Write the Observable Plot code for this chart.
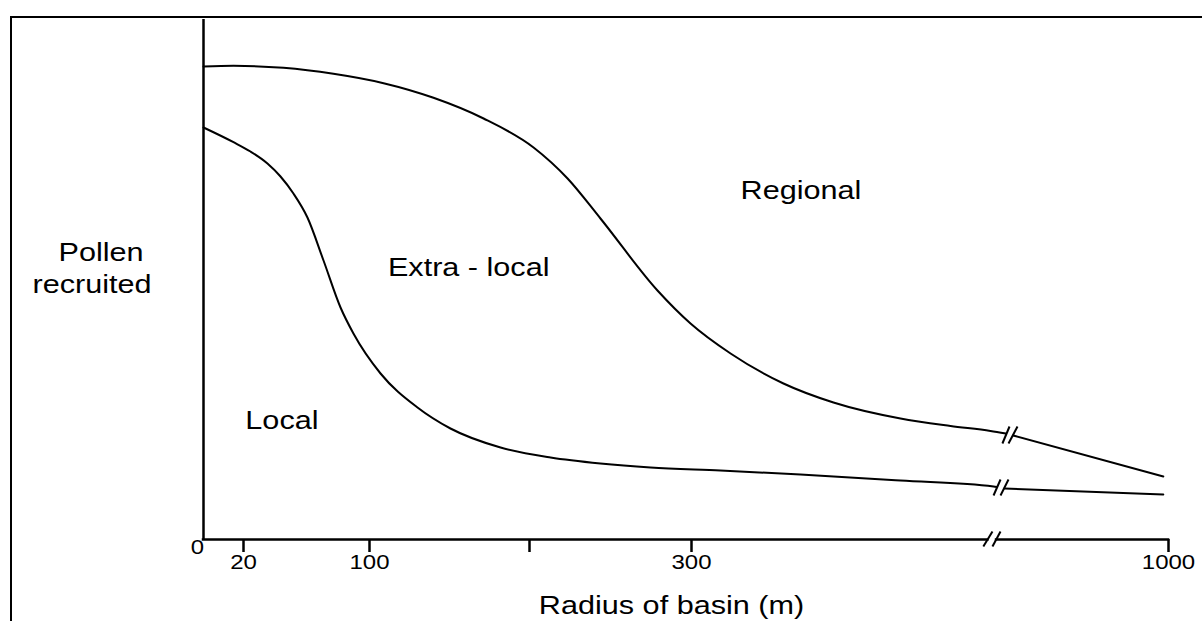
<!DOCTYPE html>
<html><head><meta charset="utf-8">
<script src="https://cdn.jsdelivr.net/npm/d3@7"></script>
<script src="https://cdn.jsdelivr.net/npm/@observablehq/plot@0.6"></script>
<style>
html,body{margin:0;padding:0;background:#fff;overflow:hidden;}
#wrap{position:relative;width:1202px;height:621px;overflow:hidden;}
#frame{position:absolute;left:10px;top:16px;width:1300px;height:800px;border-top:2px solid #000;border-left:2px solid #000;}
#chart{position:absolute;left:0;top:0;}
</style></head><body>
<div id="wrap"><div id="frame"></div><div id="chart"></div></div>
<script>
// Boundary between Extra-local and Regional (before and after the axis break)
const upperBefore = [[0,473],[15,473.7],[45.4,471.7],[77.1,465.7],[108.8,456.3],[140,441.7],[171.3,421],[202.5,392],[223.5,361],[243.8,321],[279,249],[299.4,216],[325.7,186],[360.5,156],[393.4,137],[437.5,121],[470.4,113.5],[496.7,108.5],[530,106]];
const upperAfter = [[551,104],[985,63]];
// Boundary between Local and Extra-local
const lowerBefore = [[0,412],[15,397.3],[24.4,388],[35.2,376],[43.5,363],[51.7,346],[60.6,322],[70.8,279],[81.6,232],[89.8,206],[106.9,166],[130,132],[150.6,111],[181.9,92],[213,82],[243.8,76],[274.7,72],[319,69],[371.7,65],[437.5,59],[498.7,53],[504.3,52.5]];
const lowerAfter = [[526,51],[985,45]];
// x-axis pieces (broken between 300 and 1000)
const axisPieces = [{x1: 0, x2: 495}, {x1: 503, x2: 1000}];
// break marks "//"
const breakMarks = [
  {x1: 492, y1: -7, x2: 498, y2: 8}, {x1: 498, y1: -7, x2: 514.5, y2: 8},
  {x1: 520, y1: 96, x2: 540.5, y2: 113}, {x1: 537.6, y1: 96, x2: 563.6, y2: 113},
  {x1: 498.7, y1: 44, x2: 514.5, y2: 60}, {x1: 514.5, y1: 44, x2: 537.6, y2: 60}
];
const tickValues = [20, 100, 200, 300, 1000];
const tickLabels = ["20", "100", "", "300", "1000"];
const regionNames = ["Regional", "Extra - local", "Local"];
const regionX = [372, 162, 44.4];
const regionY = [341, 264, 111];

const curves = [
  ...upperBefore.map(([x, y]) => ({x, y, s: "upper-1"})),
  ...upperAfter.map(([x, y]) => ({x, y, s: "upper-2"})),
  ...lowerBefore.map(([x, y]) => ({x, y, s: "lower-1"})),
  ...lowerAfter.map(([x, y]) => ({x, y, s: "lower-2"}))
];

const FONT = "'Liberation Sans', Arial, Helvetica, sans-serif";
const plot = Plot.plot({
  width: 1202, height: 621,
  marginLeft: 203, marginRight: 34, marginTop: 19, marginBottom: 82,
  style: {fontFamily: FONT, background: "transparent", overflow: "visible", color: "#000"},
  x: {type: "linear", domain: [0, 20, 100, 200, 300, 500, 1000], range: [203, 243, 369, 529, 691, 995, 1168], axis: null},
  y: {domain: [0, 520], range: [539, 19], axis: null},
  marks: [
    Plot.ruleX([0], {y1: 0, y2: 520, stroke: "#000", strokeWidth: 2.5}),
    Plot.ruleY(axisPieces, {x1: "x1", x2: "x2", y: 0, stroke: "#000", strokeWidth: 2.5, strokeLinecap: "square"}),
    Plot.axisX({ticks: tickValues, tickSize: 13, tickPadding: 2, strokeWidth: 2.5, fontSize: 20, fill: "#000",
      tickFormat: (d) => tickLabels[tickValues.indexOf(d)], label: null}),
    Plot.text(["0"], {x: 0, y: 0, dx: -6, dy: 14, lineAnchor: "bottom", fontSize: 20, fill: "#000"}),
    Plot.line(curves, {x: "x", y: "y", z: "s", curve: "monotone-x", stroke: "#000", strokeWidth: 2}),
    Plot.link(breakMarks, {x1: "x1", y1: "y1", x2: "x2", y2: "y2", stroke: "#000", strokeWidth: 2}),
    Plot.text(regionNames, {x: (d, i) => regionX[i], y: (d, i) => regionY[i], text: (d) => d, lineAnchor: "bottom", fontSize: 25.5, fill: "#000"}),
    Plot.text(["Radius of basin (m)"], {frameAnchor: "bottom", dx: -14.5, dy: 74, lineAnchor: "bottom", fontSize: 25.5, fill: "#000"}),
    Plot.text(["Pollen"], {frameAnchor: "left", dx: -145, dy: -19, textAnchor: "start", lineAnchor: "bottom", fontSize: 25.5, fill: "#000"}),
    Plot.text(["recruited"], {frameAnchor: "left", dx: -171, dy: 13, textAnchor: "start", lineAnchor: "bottom", fontSize: 25.5, fill: "#000"})
  ]
});
document.getElementById("chart").append(plot);
// the reference lettering is horizontally stretched by about 1.2
plot.querySelectorAll("text").forEach((t) => {
  const w = t.getComputedTextLength();
  if (w > 0) {
    t.setAttribute("textLength", (w * 1.2).toFixed(1));
    t.setAttribute("lengthAdjust", "spacingAndGlyphs");
  }
});
</script>
</body></html>
